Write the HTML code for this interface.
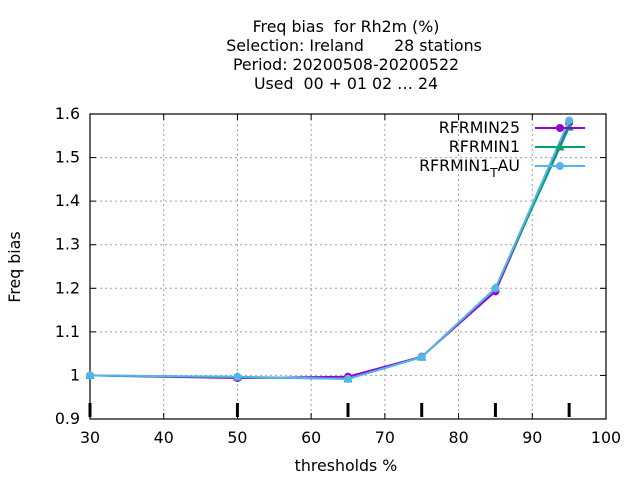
<!DOCTYPE html>
<html><head><meta charset="utf-8"><style>
body{margin:0;background:#fff;font-family:"DejaVu Sans",sans-serif}
svg text{font-family:"DejaVu Sans",sans-serif;font-size:15.8px;fill:#000;white-space:pre}
</style></head><body>
<svg id="c" width="640" height="480">
<g>
<text x="346" y="32" text-anchor="middle" xml:space="preserve">Freq bias  for Rh2m (%)</text>
<text x="354" y="51" text-anchor="middle" xml:space="preserve">Selection: Ireland      28 stations</text>
<text x="346" y="70" text-anchor="middle">Period: 20200508-20200522</text>
<text x="346" y="89" text-anchor="middle" xml:space="preserve">Used  00 + 01 02 … 24</text>
</g>
<text transform="translate(20,267) rotate(-90)" text-anchor="middle">Freq bias</text>
<text x="346" y="471" text-anchor="middle">thresholds %</text>
<g id="grid"></g><g id="axes"></g><g id="series"></g><g id="legend"></g>
</svg>
<script>
const xTicks=[30,40,50,60,70,80,90,100];
const yTicks=[0.9,1.0,1.1,1.2,1.3,1.4,1.5,1.6];
const thresholds=[30,50,65,75,85,95];
const rfrmin25=[1.0,0.994,0.997,1.043,1.193,1.58];
const rfrmin1=[1.0,0.996,0.992,1.042,1.2,1.57];
const rfrmin1TAU=[1.0,0.997,0.992,1.042,1.2,1.585];
const NS='http://www.w3.org/2000/svg';
const L=90,R=606,T=114,B=419;
const xs=v=>L+(v-30)/70*(R-L);
const ys=v=>B-(v-0.9)/0.7*(B-T);
function mk(tag,a,p){const e=document.createElementNS(NS,tag);for(const k in a)e.setAttribute(k,a[k]);p.appendChild(e);return e;}
const grid=document.getElementById('grid'),axes=document.getElementById('axes');
xTicks.forEach((t,i)=>{
 if(i>0&&i<xTicks.length-1){const g=mk('line',{x1:xs(t),x2:xs(t),y1:T,y2:B,stroke:'#a0a0a0','stroke-dasharray':'2,3'},grid);
 }
 const tx=mk('text',{x:xs(t),y:B+24,'text-anchor':'middle'},axes);tx.textContent=t;
 
 mk('line',{x1:xs(t),x2:xs(t),y1:B,y2:B-6,stroke:'#000'},axes);
 mk('line',{x1:xs(t),x2:xs(t),y1:T,y2:T+6,stroke:'#000'},axes);
});
yTicks.forEach((t,i)=>{
 if(i>0&&i<yTicks.length-1){const g=mk('line',{x1:L,x2:R,y1:ys(t),y2:ys(t),stroke:'#a0a0a0','stroke-dasharray':'2,3'},grid);
 }
 const tx=mk('text',{x:L-10,y:ys(t)+5,'text-anchor':'end'},axes);tx.textContent=(t===1?'1':t.toFixed(1));
 
 mk('line',{x1:L,x2:L+6,y1:ys(t),y2:ys(t),stroke:'#000'},axes);
 mk('line',{x1:R,x2:R-6,y1:ys(t),y2:ys(t),stroke:'#000'},axes);
});
thresholds.forEach(t=>{const m=mk('line',{x1:xs(t),x2:xs(t),y1:B-16,y2:B-2,stroke:'#000','stroke-width':3},axes);
 });
const fr=mk('rect',{x:L,y:T,width:R-L,height:B-T,fill:'none',stroke:'#000','stroke-width':1.2},axes);

const ser=document.getElementById('series'),leg=document.getElementById('legend');
const defs=[['rfrmin25','RFRMIN25','#9400d3',rfrmin25,'circle'],['rfrmin1','RFRMIN1','#009e73',rfrmin1,'tri'],['rfrmin1-t-au','RFRMIN1_TAU','#56b4e9',rfrmin1TAU,'circle']];
function marker(type,x,y,c,p){
 if(type==='circle')return mk('circle',{cx:x,cy:y,r:4,fill:c},p);
 return mk('polygon',{points:`${x},${y-5} ${x-4.5},${y+3.5} ${x+4.5},${y+3.5}`,fill:c},p);
}
defs.forEach(([id,name,c,vals,m],k)=>{
 const g=mk('g',{},ser);
 mk('polyline',{points:thresholds.map((t,i)=>xs(t)+','+ys(vals[i])).join(' '),fill:'none',stroke:c,'stroke-width':2},g);
 thresholds.forEach((t,i)=>{const p=marker(m,xs(t),ys(vals[i]),c,g);});
 const ly=128+k*19;
 const lg=mk('g',{},leg);
 mk('line',{x1:535,x2:585,y1:ly,y2:ly,stroke:c,'stroke-width':2},lg);
 marker(m,560,ly,c,lg);
 const tx=mk('text',{x:520,y:ly+5,'text-anchor':'end'},lg);
 if(name==='RFRMIN1_TAU'){tx.innerHTML='RFRMIN1<tspan dy="6" font-size="12">T</tspan><tspan dy="-6">AU</tspan>';}
 else tx.textContent=name;
});
</script>
</body></html>
